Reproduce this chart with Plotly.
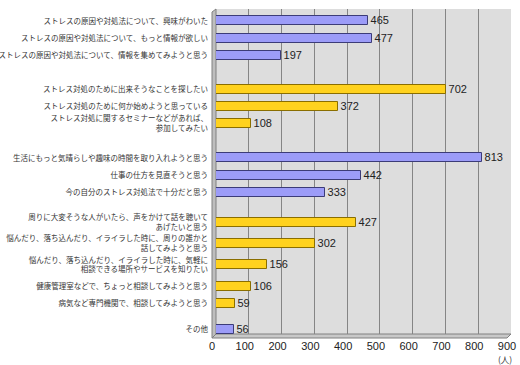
import plotly.graph_objects as go

labels = [
    "ストレスの原因や対処法について、興味がわいた",
    "ストレスの原因や対処法について、もっと情報が欲しい",
    "ストレスの原因や対処法について、情報を集めてみようと思う",
    "ストレス対処のために出来そうなことを探したい",
    "ストレス対処のために何か始めようと思っている",
    "ストレス対処に関するセミナーなどがあれば、<br>参加してみたい",
    "生活にもっと気晴らしや趣味の時間を取り入れようと思う",
    "仕事の仕方を見直そうと思う",
    "今の自分のストレス対処法で十分だと思う",
    "周りに大変そうな人がいたら、声をかけて話を聴いて<br>あげたいと思う",
    "悩んだり、落ち込んだり、イライラした時に、周りの誰かと<br>話してみようと思う",
    "悩んだり、落ち込んだり、イライラした時に、気軽に<br>相談できる場所やサービスを知りたい",
    "健康管理室などで、ちょっと相談してみようと思う",
    "病気など専門機関で、相談してみようと思う",
    "その他",
]
values = [465, 477, 197, 702, 372, 108, 813, 442, 333, 427, 302, 156, 106, 59, 56]
groups = ["blue", "blue", "blue", "yellow", "yellow", "yellow", "blue", "blue", "blue",
          "yellow", "yellow", "yellow", "yellow", "yellow", "blue"]
x_ticks = [0, 100, 200, 300, 400, 500, 600, 700, 800, 900]

# layout: quarter-row steps between consecutive rows (spacing only)
steps = [4, 4, 8, 4, 4, 8, 4, 4, 7, 5, 5, 5, 4, 6]
slots = []
k = 0
for i, lab in enumerate(labels):
    slots.append(lab)
    if i < len(steps):
        for _ in range(steps[i] - 1):
            k += 1
            slots.append(" " * k)

fill = {"blue": "#9C9CF8", "yellow": "#FFD21E"}
edge = {"blue": "#3C3C78", "yellow": "#8A6E00"}

fig = go.Figure()
fig.add_trace(go.Scatter(x=[0] * len(slots), y=slots, mode="markers",
                         marker=dict(opacity=0), hoverinfo="skip", showlegend=False))
for g in ["blue", "yellow"]:
    ys = [l for l, gg in zip(labels, groups) if gg == g]
    xs = [v for v, gg in zip(values, groups) if gg == g]
    fig.add_trace(go.Bar(
        y=ys, x=xs, orientation="h", width=2.1,
        marker=dict(color=fill[g], line=dict(color=edge[g], width=1)),
        text=[str(v) for v in xs], textposition="outside", cliponaxis=False,
        constraintext="none",
        textfont=dict(family="Liberation Sans, Arial", size=11, color="#222222"),
        showlegend=False,
    ))

W, L, R, T, B = 520, 216, 511, 9, 334
pw, ph = R - L, B - T
def px(xp): return (xp - L) / pw
def py(yp): return (B - yp) / ph

shapes = [
    # left wall
    dict(type="path", xref="paper", yref="paper",
         path=f"M {px(212)} {py(12)} L {px(216)} {py(9)} L {px(216)} {py(334)} L {px(212)} {py(338)} Z",
         fillcolor="#BEBEBE", line=dict(color="#808080", width=1), layer="below"),
    # floor
    dict(type="path", xref="paper", yref="paper",
         path=f"M {px(212)} {py(338)} L {px(216)} {py(334)} L {px(511)} {py(334)} L {px(507)} {py(338)} Z",
         fillcolor="#C8C8C8", line=dict(color="#808080", width=1), layer="below"),
]

fig.update_layout(
    width=520, height=365,
    margin=dict(l=L, r=W - R, t=T, b=365 - B, autoexpand=False),
    paper_bgcolor="white", plot_bgcolor="#DDDDDD",
    bargap=0,
    shapes=shapes,
    font=dict(family="Noto Sans CJK JP", color="#333333"),
    uniformtext=dict(minsize=11, mode="show"),
    xaxis=dict(range=[0, 900], tickvals=x_ticks, ticktext=[str(t) for t in x_ticks],
               showgrid=True, gridcolor="#858585", gridwidth=1, zeroline=False,
               showline=False, ticks="", ticklabelstandoff=4, ticklabelshift=-4,
               automargin=False,
               tickfont=dict(family="Liberation Sans, Arial", size=11, color="#222222")),
    yaxis=dict(type="category", categoryorder="array", categoryarray=slots,
               tickmode="array", tickvals=labels, ticktext=labels,
               range=[73.16, -2.8], showgrid=False, zeroline=False, ticks="",
               ticklabelstandoff=7, automargin=False,
               tickfont=dict(family="Noto Sans CJK JP", size=7.5, color="#333333")),
    annotations=[dict(text="(人)", x=px(505), y=py(359), xref="paper", yref="paper",
                      xanchor="center", yanchor="middle", showarrow=False,
                      font=dict(family="Noto Sans CJK JP", size=8.5, color="#333333"))],
)

fig.write_html("out.html", config={"displayModeBar": False},
               post_script="document.body.style.margin='0';")
